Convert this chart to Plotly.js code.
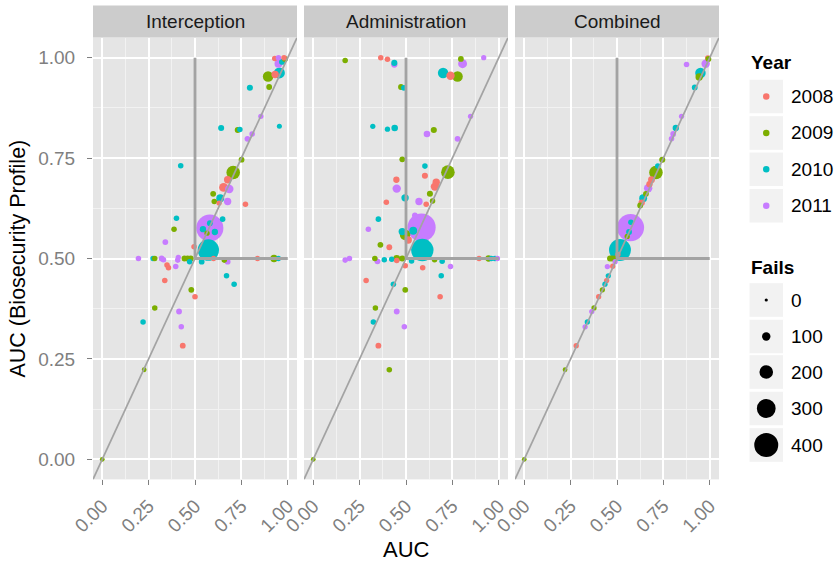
<!DOCTYPE html>
<html>
<head>
<meta charset="utf-8">
<script src="https://cdn.plot.ly/plotly-3.0.1.min.js"></script>
<style>html,body{margin:0;padding:0;background:#fff;}#chart{width:838px;height:563px;}</style>
</head>
<body>
<div id="chart"></div>
<script>
// ---------- data ----------
const panels = ["Interception", "Administration", "Combined"];
const years = [2008, 2009, 2010, 2011];
const yearColors = ["#F8766D", "#7CAE00", "#00BFC4", "#C77CFF"];
const failBreaks = [0, 100, 200, 300, 400];
const threshold = 0.5;

// Interception
const intX = [0.93,0.95,0.98,0.985,0.95,0.97,0.955,0.932,0.894,0.90,0.796,0.855,0.641,0.73,0.742,0.955,0.808,0.783,0.423,0.751,0.706,0.676,0.654,0.685,0.598,0.636,0.604,0.63,0.676,0.772,0.40,0.649,0.387,0.58,0.607,0.543,0.58,0.565,0.34,0.495,0.572,0.195,0.274,0.283,0.32,0.33,0.407,0.41,0.443,0.46,0.477,0.471,0.536,0.6,0.658,0.676,0.837,0.926,0.95,0.349,0.357,0.396,0.67,0.711,0.337,0.48,0.5,0.283,0.414,0.22,0.426,0.434,0.226,0.0];
const intY = [0.998,1.0,1.0,0.997,0.985,0.99,0.962,0.958,0.953,0.927,0.925,0.854,0.825,0.82,0.821,0.829,0.81,0.798,0.731,0.746,0.714,0.696,0.677,0.673,0.661,0.65,0.642,0.638,0.642,0.635,0.60,0.598,0.573,0.576,0.566,0.573,0.588,0.563,0.541,0.529,0.521,0.5,0.5,0.5,0.5,0.497,0.496,0.503,0.5,0.5,0.5,0.492,0.492,0.5,0.496,0.492,0.5,0.5,0.5,0.484,0.477,0.48,0.457,0.436,0.445,0.422,0.405,0.377,0.368,0.342,0.33,0.283,0.223,0.0];
const intYear = [2008,2011,2008,2009,2011,2010,2010,2008,2009,2009,2010,2011,2010,2009,2010,2010,2011,2011,2010,2009,2009,2008,2008,2011,2009,2010,2009,2008,2011,2008,2010,2010,2009,2011,2010,2010,2010,2009,2011,2008,2010,2011,2010,2009,2011,2011,2011,2011,2009,2009,2009,2010,2010,2008,2009,2011,2008,2009,2010,2008,2008,2011,2010,2010,2008,2009,2008,2009,2011,2010,2011,2008,2009,2009];
const intFails = [45,45,45,50,90,60,150,80,140,50,55,40,55,50,45,35,45,50,45,50,200,80,110,100,50,90,45,40,80,45,45,45,45,460,60,60,50,40,50,45,350,45,45,45,50,45,45,40,50,50,55,45,50,40,45,50,40,80,40,45,45,45,45,45,45,50,45,45,50,45,45,50,30,30];

// Administration
const admX = [0.172,0.364,0.40,0.437,0.437,0.796,0.805,0.919,0.70,0.74,0.778,0.473,0.489,0.848,0.321,0.40,0.439,0.65,0.613,0.778,0.48,0.602,0.602,0.726,0.448,0.656,0.663,0.45,0.629,0.495,0.394,0.57,0.609,0.643,0.351,0.548,0.297,0.584,0.48,0.539,0.495,0.512,0.362,0.41,0.588,0.172,0.195,0.332,0.346,0.383,0.423,0.45,0.45,0.48,0.53,0.654,0.695,0.74,0.894,0.945,0.96,0.98,0.993,0.496,0.59,0.69,0.285,0.432,0.496,0.684,0.335,0.45,0.324,0.491,0.351,0.41,0.0];
const admY = [0.993,1.0,0.996,0.987,0.983,0.997,0.985,1.0,0.962,0.955,0.953,0.927,0.925,0.854,0.829,0.822,0.825,0.82,0.81,0.798,0.747,0.73,0.706,0.715,0.696,0.679,0.69,0.674,0.661,0.651,0.64,0.642,0.635,0.643,0.598,0.607,0.573,0.577,0.567,0.569,0.559,0.546,0.534,0.528,0.521,0.496,0.5,0.5,0.493,0.497,0.498,0.5,0.495,0.5,0.494,0.497,0.493,0.48,0.5,0.5,0.5,0.5,0.5,0.482,0.477,0.457,0.445,0.436,0.422,0.405,0.377,0.368,0.342,0.33,0.283,0.223,0.0];
const admYear = [2009,2008,2008,2010,2011,2009,2011,2011,2010,2008,2009,2009,2010,2011,2010,2010,2010,2009,2011,2011,2009,2010,2008,2009,2008,2008,2008,2011,2009,2010,2008,2011,2008,2009,2010,2011,2011,2011,2010,2010,2009,2008,2009,2008,2010,2011,2011,2009,2011,2010,2010,2009,2008,2009,2010,2009,2010,2011,2008,2009,2010,2010,2011,2008,2008,2010,2008,2010,2009,2008,2009,2011,2010,2011,2008,2009,2009];
const admFails = [45,45,45,55,60,50,110,40,140,100,140,50,50,40,40,40,65,55,65,50,50,45,55,200,60,100,80,100,55,80,45,80,45,45,45,50,45,480,80,90,140,80,50,50,370,45,45,45,50,45,45,70,45,55,45,45,45,45,40,60,45,45,40,45,45,45,45,45,50,45,45,50,45,45,50,45,30];

// Combined
const comX = [0.875,0.978,0.99,0.993,0.95,0.943,0.919,0.848,0.817,0.803,0.794,0.744,0.72,0.71,0.686,0.675,0.668,0.656,0.641,0.633,0.625,0.573,0.565,0.575,0.555,0.516,0.462,0.475,0.49,0.448,0.477,0.453,0.444,0.435,0.421,0.401,0.376,0.364,0.34,0.328,0.28,0.22,0.0,0.49,0.505];
const comY = [0.983,0.985,0.999,0.997,0.962,0.952,0.926,0.854,0.825,0.81,0.798,0.746,0.73,0.714,0.696,0.685,0.675,0.661,0.65,0.639,0.632,0.577,0.566,0.59,0.555,0.521,0.5,0.5,0.5,0.48,0.481,0.457,0.445,0.436,0.422,0.405,0.377,0.368,0.342,0.33,0.283,0.223,0.0,0.492,0.51];
const comYear = [2011,2011,2008,2009,2010,2009,2010,2011,2010,2011,2011,2009,2010,2009,2008,2008,2011,2009,2010,2008,2009,2011,2010,2010,2009,2010,2009,2009,2009,2011,2008,2010,2008,2010,2009,2008,2009,2011,2010,2011,2008,2009,2009,2011,2008];
const comFails = [45,100,50,50,140,80,50,40,60,50,45,55,45,200,70,60,100,50,90,60,50,460,50,45,40,360,50,55,50,40,40,40,40,40,40,40,40,40,40,40,40,30,30,40,40];

// ---------- geometry (pixels in 838x563) ----------
const W = 838, H = 563;
const panelPx = [[93, 297], [304, 508], [515, 719]];
const panelTop = 37.6, panelBottom = 479.4, stripTop = 5.5;
const axisRange = [-0.05, 1.05];
const sizeOf = f => 3.2 + 0.052 * f;   // diameter in px
const colorOf = yr => yearColors[years.indexOf(yr)];
const px2x = p => p / W;
const py2y = p => 1 - p / H;

const sets = [
  {x: intX, y: intY, yr: intYear, f: intFails},
  {x: admX, y: admY, yr: admYear, f: admFails},
  {x: comX, y: comY, yr: comYear, f: comFails}
];

const traces = [];
const layout = {
  width: W, height: H,
  margin: {l: 0, r: 0, t: 0, b: 0},
  paper_bgcolor: "#FFFFFF",
  plot_bgcolor: "#E5E5E5",
  showlegend: false,
  font: {family: "Liberation Sans, Arial, sans-serif", color: "#000"},
  shapes: [], annotations: []
};

const tickFont = {family: "Liberation Sans, Arial, sans-serif", size: 19, color: "#7F7F7F"};

sets.forEach((s, i) => {
  const idx = s.x.map((_, k) => k).sort((a, b) => s.f[b] - s.f[a]);
  const xa = i === 0 ? "x" : "x" + (i + 1);
  const ya = i === 0 ? "y" : "y" + (i + 1);
  traces.push({
    type: "scatter", mode: "markers",
    x: idx.map(k => s.x[k]), y: idx.map(k => s.y[k]),
    xaxis: xa, yaxis: ya,
    marker: {size: idx.map(k => sizeOf(s.f[k])), color: idx.map(k => colorOf(s.yr[k])), line: {width: 0}, opacity: 1},
    hoverinfo: "skip", cliponaxis: true
  });
  const axName = i === 0 ? "xaxis" : "xaxis" + (i + 1);
  const ayName = i === 0 ? "yaxis" : "yaxis" + (i + 1);
  layout[axName] = {
    domain: [px2x(panelPx[i][0]), px2x(panelPx[i][1])],
    range: axisRange, anchor: ya,
    tickmode: "linear", tick0: 0, dtick: 0.25, tickformat: ".2f",
    tickangle: -45, ticks: "outside", ticklen: 5, tickcolor: "#7F7F7F", tickwidth: 1,
    tickfont: tickFont, ticklabelstandoff: 2,
    showgrid: true, gridcolor: "#FFFFFF", gridwidth: 2,
    minor: {tick0: 0.125, dtick: 0.25, showgrid: true, gridcolor: "#F2F2F2", gridwidth: 1, ticks: ""},
    zeroline: false, showline: false, fixedrange: true
  };
  layout[ayName] = {
    domain: [py2y(panelBottom), py2y(panelTop)],
    range: axisRange, anchor: xa,
    tickmode: "linear", tick0: 0, dtick: 0.25, tickformat: ".2f",
    ticks: i === 0 ? "outside" : "", ticklen: 5, tickcolor: "#7F7F7F", tickwidth: 1,
    showticklabels: i === 0, tickfont: tickFont, ticklabelstandoff: 8,
    showgrid: true, gridcolor: "#FFFFFF", gridwidth: 2,
    minor: {tick0: 0.125, dtick: 0.25, showgrid: true, gridcolor: "#F2F2F2", gridwidth: 1, ticks: ""},
    zeroline: false, showline: false, fixedrange: true
  };
  if (i > 0) layout[ayName].matches = "y";

  // reference lines
  const lineCol = "#A3A3A3";
  layout.shapes.push({type: "line", xref: xa, yref: ya, x0: axisRange[0], y0: axisRange[0], x1: axisRange[1], y1: axisRange[1],
    line: {color: lineCol, width: 1.7}, layer: "above"});
  layout.shapes.push({type: "line", xref: xa, yref: ya, x0: threshold, y0: threshold, x1: threshold, y1: 1,
    line: {color: lineCol, width: 2.8}, layer: "above"});
  layout.shapes.push({type: "line", xref: xa, yref: ya, x0: threshold, y0: threshold, x1: 1, y1: threshold,
    line: {color: lineCol, width: 2.8}, layer: "above"});

  // strip
  layout.shapes.push({type: "rect", xref: "paper", yref: "paper",
    x0: px2x(panelPx[i][0]), x1: px2x(panelPx[i][1]), y0: py2y(panelTop), y1: py2y(stripTop),
    fillcolor: "#CCCCCC", line: {width: 0}, layer: "below"});
  layout.annotations.push({xref: "paper", yref: "paper", x: px2x((panelPx[i][0] + panelPx[i][1]) / 2),
    y: py2y((stripTop + panelTop) / 2), text: panels[i], showarrow: false,
    font: {size: 19, color: "#1A1A1A"}, xanchor: "center", yanchor: "middle"});
});

// axis titles
layout.annotations.push({xref: "paper", yref: "paper", x: px2x((panelPx[0][0] + panelPx[2][1]) / 2), y: py2y(549),
  text: "AUC", showarrow: false, font: {size: 22}, xanchor: "center", yanchor: "middle"});
layout.annotations.push({xref: "paper", yref: "paper", x: px2x(18), y: py2y((panelTop + panelBottom) / 2),
  text: "AUC (Biosecurity Profile)", textangle: -90, showarrow: false, font: {size: 21.5}, xanchor: "center", yanchor: "middle"});

// legends
const keyX0 = 749, keyX1 = 783.5, keyH = 34.6;
const legText = 789;
function legendTitle(txt, yc) {
  layout.annotations.push({xref: "paper", yref: "paper", x: px2x(749), y: py2y(yc), text: "<b>" + txt + "</b>",
    showarrow: false, font: {size: 19}, xanchor: "left", yanchor: "middle"});
}
function legendKey(yc, label, diam, color) {
  layout.shapes.push({type: "rect", xref: "paper", yref: "paper", x0: px2x(keyX0), x1: px2x(keyX1),
    y0: py2y(yc + keyH / 2), y1: py2y(yc - keyH / 2), fillcolor: "#F2F2F2", line: {color: "#FFFFFF", width: 1}, layer: "above"});
  const cx = px2x((keyX0 + keyX1) / 2), cy = py2y(yc);
  layout.shapes.push({type: "circle", xref: "paper", yref: "paper", xsizemode: "pixel", ysizemode: "pixel",
    xanchor: cx, yanchor: cy, x0: -diam / 2, x1: diam / 2, y0: -diam / 2, y1: diam / 2,
    fillcolor: color, line: {width: 0}, layer: "above"});
  layout.annotations.push({xref: "paper", yref: "paper", x: px2x(legText), y: py2y(yc), text: label,
    showarrow: false, font: {size: 19}, xanchor: "left", yanchor: "middle"});
}
legendTitle("Year", 63);
const yearKeyY = [96.5, 133, 169.3, 205.7];
years.forEach((yr, k) => legendKey(yearKeyY[k], String(yr), 6.5, yearColors[k]));
legendTitle("Fails", 267);
const failKeyY = [300, 336.5, 372, 408.5, 445];
failBreaks.forEach((fb, k) => legendKey(failKeyY[k], String(fb), sizeOf(fb), "#000000"));

Plotly.newPlot("chart", traces, layout, {displayModeBar: false, staticPlot: true});
</script>
</body>
</html>
